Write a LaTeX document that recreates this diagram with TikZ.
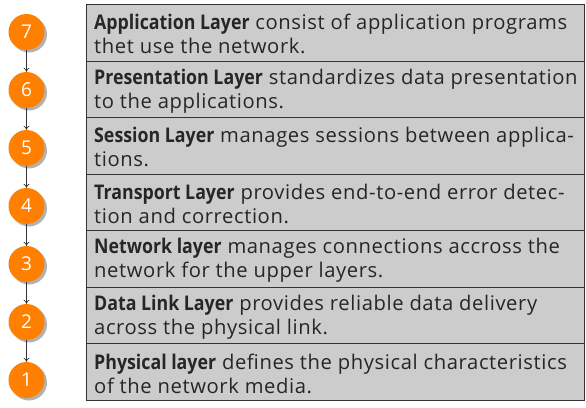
\documentclass[tikz,border=0pt]{standalone}
\usepackage{fontspec}
\setsansfont{Open Sans}[UprightFeatures={LetterSpace=3.0}, BoldFeatures={FakeStretch=0.88}]
\usetikzlibrary{shadows,arrows.meta}
\definecolor{osiorange}{HTML}{FF8000}
\definecolor{rowgray}{HTML}{CCCCCC}
\definecolor{edgegray}{HTML}{333333}
\begin{document}
\begin{tikzpicture}[x=1pt,y=-1pt,
  layercirc/.style={circle, fill=osiorange, minimum size=36pt, inner sep=0pt,
    text=white, font=\fontsize{19}{22}\selectfont\sffamily,
    drop shadow={shadow xshift=2.5pt, shadow yshift=-2.5pt, opacity=0.5, fill=black!60}},
  layerrow/.style={draw=edgegray, line width=0.9pt, fill=rowgray, anchor=north west,
    minimum width=498pt, minimum height=56.6pt, inner sep=0pt},
  layertext/.style={anchor=west, inner sep=0pt, align=left, text=black!85,
    font=\fontsize{20.2}{24}\selectfont\sffamily},
  flow/.style={draw=edgegray, line width=0.7pt, -{To[length=4pt,width=6pt]}}
]
\useasboundingbox (0,0) rectangle (586,407);
\node[layerrow] (r7) at (86,4) {};
\node[layerrow] (r6) at (86,60.6) {};
\node[layerrow] (r5) at (86,117.1) {};
\node[layerrow] (r4) at (86,173.7) {};
\node[layerrow] (r3) at (86,230.3) {};
\node[layerrow] (r2) at (86,286.9) {};
\node[layerrow] (r1) at (86,343.4) {};
\node[layertext] (t7) at ([xshift=8pt,yshift=-1.5pt]r7.west) {\textbf{Application Layer} consist of application programs\\thet use the network.};
\node[layertext] (t6) at ([xshift=8pt,yshift=-1.5pt]r6.west) {\textbf{Presentation Layer} standardizes data presentation\\to the applications.};
\node[layertext] (t5) at ([xshift=8pt,yshift=-1.5pt]r5.west) {\textbf{Session Layer} manages sessions between applica-\\tions.};
\node[layertext] (t4) at ([xshift=8pt,yshift=-1.5pt]r4.west) {\textbf{Transport Layer} provides end-to-end error detec-\\tion and correction.};
\node[layertext] (t3) at ([xshift=8pt,yshift=-1.5pt]r3.west) {\textbf{Network layer} manages connections accross the\\network for the upper layers.};
\node[layertext] (t2) at ([xshift=8pt,yshift=-1.5pt]r2.west) {\textbf{Data Link Layer} provides reliable data delivery\\across the physical link.};
\node[layertext] (t1) at ([xshift=8pt,yshift=-1.5pt]r1.west) {\textbf{Physical layer} defines the physical characteristics\\of the network media.};

\node[layercirc] (c7) at (26.5,32) {7};
\node[layercirc] (c6) at (26.5,90) {6};
\node[layercirc] (c5) at (26.5,148) {5};
\node[layercirc] (c4) at (26.5,206) {4};
\node[layercirc] (c3) at (26.5,264) {3};
\node[layercirc] (c2) at (26.5,322) {2};
\node[layercirc] (c1) at (26.5,380) {1};

\draw[flow] (c7) -- (c6);
\draw[flow] (c6) -- (c5);
\draw[flow] (c5) -- (c4);
\draw[flow] (c4) -- (c3);
\draw[flow] (c3) -- (c2);
\draw[flow] (c2) -- (c1);
\end{tikzpicture}
\end{document}
